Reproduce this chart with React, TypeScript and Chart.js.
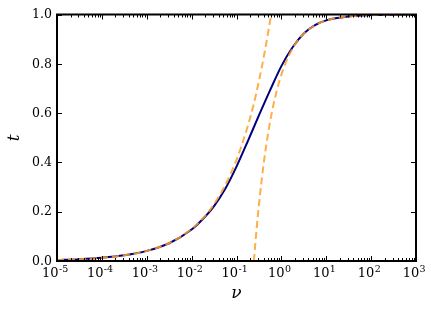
import React, { useEffect, useRef } from "react";
import { Chart, registerables } from "chart.js";

Chart.register(...registerables);

// Solid curve t(ν)
const nuExact = [1e-5, 3.16e-5, 1e-4, 3.16e-4, 1e-3, 3.16e-3, 1e-2, 0.0178, 0.0316, 0.0562, 0.1, 0.178, 0.316, 0.562, 1, 1.78, 3.16, 5.62, 10, 31.6, 100, 316, 1000];
const tExact = [0.004, 0.0073, 0.013, 0.023, 0.041, 0.072, 0.128, 0.1705, 0.223, 0.293, 0.383, 0.4855, 0.5905, 0.693, 0.7905, 0.867, 0.923, 0.957, 0.976, 0.992, 0.9975, 0.9992, 1.0];

// Small-ν asymptote (dashed)
const nuSmall = [1e-5, 3.16e-5, 1e-4, 3.16e-4, 1e-3, 3.16e-3, 1e-2, 0.0178, 0.0316, 0.0562, 0.1, 0.133, 0.178, 0.237, 0.316, 0.422, 0.562, 0.596];
const tSmall = [0.004, 0.0073, 0.013, 0.023, 0.041, 0.073, 0.13, 0.173, 0.231, 0.308, 0.41, 0.474, 0.547, 0.63, 0.73, 0.845, 0.975, 1.0];

// Large-ν asymptote (dashed)
const nuLarge = [0.244, 0.26, 0.28, 0.3, 0.33, 0.36, 0.4, 0.45, 0.5, 0.56, 0.63, 0.71, 0.8, 0.9, 1, 1.26, 1.6, 2, 2.5, 3.2, 4, 5.6, 8, 10, 20, 50, 100, 1000];
const tLarge = [0, 0.06, 0.13, 0.187, 0.26, 0.32, 0.39, 0.458, 0.512, 0.564, 0.613, 0.656, 0.695, 0.729, 0.756, 0.806, 0.847, 0.878, 0.902, 0.924, 0.939, 0.956, 0.97, 0.976, 0.988, 0.995, 0.998, 1.0];

const xDecades = [-5, -4, -3, -2, -1, 0, 1, 2, 3];
const yTicks = [0, 0.2, 0.4, 0.6, 0.8, 1.0];
const yTickLabels = ["0.0", "0.2", "0.4", "0.6", "0.8", "1.0"];

const toPts = (xs: number[], ys: number[]) => xs.map((x, i) => ({ x, y: ys[i] }));

const framePlugin = {
  id: "framePlugin",
  afterDraw(chart: any) {
    const { ctx, chartArea } = chart;
    const xs = chart.scales.x;
    const ys = chart.scales.y;
    const { left, right, top, bottom } = chartArea;
    ctx.save();
    ctx.strokeStyle = "#000";
    ctx.lineWidth = 1;
    const majorLen = 5;
    const minorLen = 3;
    ctx.beginPath();
    for (let d = -5; d <= 3; d++) {
      const px = Math.round(xs.getPixelForValue(Math.pow(10, d))) + 0.5;
      ctx.moveTo(px, bottom);
      ctx.lineTo(px, bottom - majorLen);
      ctx.moveTo(px, top);
      ctx.lineTo(px, top + majorLen);
      if (d < 3) {
        for (let m = 2; m <= 9; m++) {
          const pm = Math.round(xs.getPixelForValue(m * Math.pow(10, d))) + 0.5;
          ctx.moveTo(pm, bottom);
          ctx.lineTo(pm, bottom - minorLen);
          ctx.moveTo(pm, top);
          ctx.lineTo(pm, top + minorLen);
        }
      }
    }
    yTicks.forEach((v) => {
      const py = Math.round(ys.getPixelForValue(v)) + 0.5;
      ctx.moveTo(left, py);
      ctx.lineTo(left + majorLen, py);
      ctx.moveTo(right, py);
      ctx.lineTo(right - majorLen, py);
    });
    ctx.stroke();
    ctx.lineWidth = 2;
    ctx.strokeRect(left, top, right - left, bottom - top);

    ctx.fillStyle = "#000";
    ctx.font = "12.5px 'DejaVu Serif'";
    ctx.textAlign = "right";
    ctx.textBaseline = "middle";
    yTicks.forEach((v, i) => {
      const py = ys.getPixelForValue(v);
      ctx.fillText(yTickLabels[i], left - 5, py + 0.5);
    });

    xDecades.forEach((d) => {
      const px = xs.getPixelForValue(Math.pow(10, d));
      const base = "10";
      const sup = d < 0 ? "-" + String(-d) : String(d);
      ctx.font = "13px 'DejaVu Serif'";
      const wb = ctx.measureText(base).width;
      ctx.font = "9.5px 'DejaVu Serif'";
      const ws = ctx.measureText(sup).width;
      const total = wb + ws;
      const x0 = px - total / 2 - 2;
      ctx.textAlign = "left";
      ctx.textBaseline = "alphabetic";
      ctx.font = "13px 'DejaVu Serif'";
      ctx.fillText(base, x0, bottom + 16);
      ctx.font = "9.5px 'DejaVu Serif'";
      ctx.fillText(sup, x0 + wb + 0.3, bottom + 10.5);
    });

    ctx.font = "italic 17px 'DejaVu Serif'";
    ctx.textAlign = "center";
    ctx.textBaseline = "middle";
    ctx.fillText("\u03bd", (left + right) / 2, 294);
    ctx.save();
    ctx.translate(15, (top + bottom) / 2);
    ctx.rotate(-Math.PI / 2);
    ctx.fillText("t", 0, 0);
    ctx.restore();
    ctx.restore();
  },
};

export default function App() {
  const ref = useRef<HTMLCanvasElement | null>(null);
  useEffect(() => {
    if (!ref.current) return;
    const orange = "rgba(255,160,40,0.85)";
    const common = { showLine: true, borderWidth: 2, pointRadius: 0, cubicInterpolationMode: "monotone" };
    const chart = new Chart(ref.current, {
      type: "scatter",
      data: {
        datasets: [
          { ...common, data: toPts(nuExact, tExact), borderColor: "#00007f", order: 2 } as any,
          { ...common, data: toPts(nuSmall, tSmall), borderColor: orange, borderDash: [7, 4], order: 1 } as any,
          { ...common, data: toPts(nuLarge, tLarge), borderColor: orange, borderDash: [7, 4], order: 0 } as any,
        ],
      },
      options: {
        animation: false,
        responsive: false,
        devicePixelRatio: 1,
        layout: { padding: { left: 57, right: 20, top: 14.5, bottom: 51 } },
        plugins: { legend: { display: false }, tooltip: { enabled: false } },
        scales: {
          x: { type: "logarithmic", min: 1e-5, max: 1e3, display: false },
          y: { type: "linear", min: 0, max: 1, display: false },
        },
      },
      plugins: [framePlugin],
    });
    return () => chart.destroy();
  }, []);
  return (
    <div style={{ position: "absolute", left: 0, top: 0, width: 436, height: 312, background: "#fff" }}>
      <canvas ref={ref} width={436} height={312} />
    </div>
  );
}
